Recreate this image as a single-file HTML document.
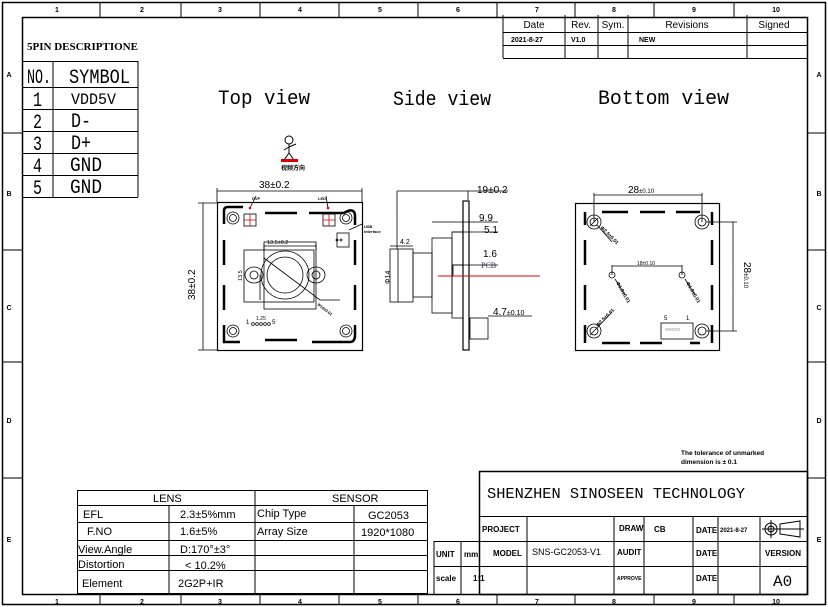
<!DOCTYPE html>
<html><head><meta charset="utf-8"><style>
html,body{margin:0;padding:0;background:#fff}
svg{display:block}
text{font-family:"Liberation Sans","Noto Sans CJK SC",sans-serif;fill:#000}
.m text, text.m{font-family:"Liberation Mono","DejaVu Sans Mono",monospace}
</style></head><body>
<svg width="828" height="607" viewBox="0 0 828 607" xmlns="http://www.w3.org/2000/svg">
<g fill="none" stroke="#000" stroke-width="1">
<rect x="2.5" y="2.5" width="823" height="602" stroke-width="1.5"/>
<rect x="22.5" y="17.5" width="785" height="577" stroke-width="1.5"/>
<path d="M100 3V17M181 3V17M260 3V17M339 3V17M418 3V17M497 3V17M575 3V17M654 3V17M734 3V17"/>
<path d="M100 594V605M181 594V605M260 594V605M339 594V605M418 594V605M497 594V605M575 594V605M654 594V605M734 594V605"/>
<path d="M3 133H22M3 250H22M3 362H22M3 478H22M808 133H826M808 250H826M808 362H826M808 478H826"/>
<path d="M23 61.5H138M23 87.5H138M23 109.5H138M23 131.5H138M23 153.5H138M23 175.5H138M23 197.5H138M138 61V197M53 61V197"/>
<path d="M503 15V58M565 15V58M598 15V58M628 15V58M747 15V58M503 32.5H807M503 45.5H807M503 58.5H807"/>
<rect x="77.5" y="490.5" width="350" height="103"/>
<path d="M77 505.5H427M77 522.5H427M77 540.5H427M77 555.5H427M77 570.5H427M169 505V594M255 490V594M354 505V594"/>
<rect x="479.5" y="471.5" width="328" height="123" stroke-width="1.5"/>
<path d="M480 516.5H807M434 541.5H807M434 566.5H807M434 541V594M461 541V594M527 516V594M614 516V594M644 516V594M693 516V594M718 516V594M760 516V594"/>
<circle cx="771" cy="529" r="6"/><circle cx="771" cy="529" r="3"/><path d="M762 529H804M771 520V538M780 524L800 521V537L780 534Z"/>
</g>
<g font-size="7" font-weight="bold" text-anchor="middle">
<text x="57" y="12">1</text><text x="142" y="12">2</text><text x="220" y="12">3</text><text x="300" y="12">4</text><text x="380" y="12">5</text><text x="458" y="12">6</text><text x="537" y="12">7</text><text x="614" y="12">8</text><text x="694" y="12">9</text><text x="776" y="12">10</text>
<text x="57" y="604">1</text><text x="142" y="604">2</text><text x="220" y="604">3</text><text x="300" y="604">4</text><text x="380" y="604">5</text><text x="458" y="604">6</text><text x="537" y="604">7</text><text x="614" y="604">8</text><text x="694" y="604">9</text><text x="776" y="604">10</text>
<text x="9" y="77">A</text><text x="9" y="196">B</text><text x="9" y="310">C</text><text x="9" y="423">D</text><text x="9" y="542">E</text>
<text x="819" y="77">A</text><text x="819" y="196">B</text><text x="819" y="310">C</text><text x="819" y="423">D</text><text x="819" y="542">E</text>
</g>
<text x="27" y="50" font-size="11" font-weight="bold" style="font-family:'Liberation Serif',serif">5PIN DESCRIPTIONE</text>
<g font-size="20" class="m" lengthAdjust="spacingAndGlyphs">
<text x="27" y="83" textLength="24" lengthAdjust="spacingAndGlyphs">NO.</text><text x="69" y="83" textLength="61" lengthAdjust="spacingAndGlyphs">SYMBOL</text>
<text x="33" y="106" textLength="9" lengthAdjust="spacingAndGlyphs">1</text><text x="71" y="104" font-size="16" textLength="45" lengthAdjust="spacingAndGlyphs">VDD5V</text>
<text x="33" y="128" textLength="9" lengthAdjust="spacingAndGlyphs">2</text><text x="71" y="127" textLength="20" lengthAdjust="spacingAndGlyphs">D-</text>
<text x="33" y="150" textLength="9" lengthAdjust="spacingAndGlyphs">3</text><text x="71" y="149" textLength="20" lengthAdjust="spacingAndGlyphs">D+</text>
<text x="33" y="172" textLength="9" lengthAdjust="spacingAndGlyphs">4</text><text x="70" y="171" textLength="32" lengthAdjust="spacingAndGlyphs">GND</text>
<text x="33" y="194" textLength="9" lengthAdjust="spacingAndGlyphs">5</text><text x="70" y="193" textLength="32" lengthAdjust="spacingAndGlyphs">GND</text>
</g>
<g font-size="10" text-anchor="middle">
<text x="534" y="28">Date</text><text x="581" y="28">Rev.</text><text x="613" y="28">Sym.</text><text x="687" y="28">Revisions</text><text x="774" y="28">Signed</text>
</g>
<g font-size="7" font-weight="bold"><text x="511" y="42">2021-8-27</text><text x="571" y="42">V1.0</text><text x="639" y="42">NEW</text></g>
<g font-size="20" class="m"><text x="218" y="104" textLength="92" lengthAdjust="spacingAndGlyphs">Top view</text><text x="393" y="105" textLength="98" lengthAdjust="spacingAndGlyphs">Side view</text><text x="598" y="104" textLength="131" lengthAdjust="spacingAndGlyphs">Bottom view</text></g>
<g stroke="#000" fill="none"><circle cx="289" cy="140" r="4"/><path d="M289 144V153L284 160M289 153L294 160M289 147L296 144M289 147L284 150"/></g>
<rect x="281" y="159" width="17" height="3" fill="#d00"/>
<text x="281" y="170" font-size="6" font-weight="bold">视频方向</text>
<text x="259" y="188" font-size="10">38±0.2</text>
<g fill="none" stroke="#000" stroke-width="0.8">
<path d="M217 191H362M217 188V202M362 188V202M203 203V350M198 203H217M198 350H217"/>
<rect x="217.5" y="202.5" width="145" height="148" stroke-width="1.2"/>
<path d="M224 224V211Q224 207 228 207H243M265 213H297M309 213H344Q354 207 355 215V225M224 240V265M355 240V265M224 285V310M355 285V310M224 325V342H240M265 340H297M312 342H350Q355 342 355 335V325" stroke-width="2.5"/>
<circle cx="233" cy="218" r="6"/><circle cx="233" cy="218" r="3.5"/>
<circle cx="346" cy="218" r="6"/><circle cx="346" cy="218" r="3.5"/>
<circle cx="233" cy="331" r="6"/><circle cx="233" cy="331" r="3.5"/>
<circle cx="346" cy="331" r="6"/><circle cx="346" cy="331" r="3.5"/>
<rect x="244" y="214" width="12" height="12"/><rect x="323" y="214" width="12" height="12"/>
<rect x="337" y="233" width="12" height="14"/>
<rect x="244" y="250" width="70" height="52"/><rect x="264" y="242" width="52" height="67"/>
<circle cx="285" cy="275" r="24"/><circle cx="285" cy="275" r="18"/>
<ellipse cx="254" cy="275" rx="9" ry="8"/><ellipse cx="316" cy="275" rx="9" ry="8"/>
<circle cx="254" cy="275" r="4"/><circle cx="316" cy="275" r="4"/>
<path d="M264 246H316M264 244V250M316 244V250M260 275V300M264 258L320 300H340"/>
<path d="M250 208L256 196M328 208L326 196M349 230L362 224"/>
</g>
<g stroke="#d00" stroke-width="0.8"><path d="M250 214V226M244 220H256M329 214V226M323 220H335"/></g>
<circle cx="250" cy="208" r="1.3" fill="#d00"/><circle cx="328" cy="208" r="1.3" fill="#d00"/>
<g font-size="4" font-weight="bold"><text x="252" y="200">DVP</text><text x="318" y="200">LED</text><text x="364" y="228">USB</text><text x="364" y="233">interface</text><text x="317" y="305" transform="rotate(38 317 305)">Φ14±0.01</text></g>
<g font-size="5.5"><text x="267" y="244">13.5±0.2</text><text x="242" y="281" transform="rotate(-90 242 281)">13.5</text></g>
<text x="195" y="300" font-size="10" transform="rotate(-90 195 300)">38±0.2</text>
<text x="246" y="324" font-size="6">1</text><text x="272" y="324" font-size="6">5</text><text x="256" y="320" font-size="5">1.25</text>
<g fill="none" stroke="#000" stroke-width="0.7"><circle cx="253" cy="324" r="1.4"/><circle cx="257" cy="324" r="1.4"/><circle cx="261" cy="324" r="1.4"/><circle cx="265" cy="324" r="1.4"/><circle cx="269" cy="324" r="1.4"/><circle cx="337" cy="240" r="1"/><circle cx="341" cy="240" r="1"/></g>
<g fill="none" stroke="#000" stroke-width="0.8">
<rect x="463" y="201" width="6" height="149" stroke-width="1.2"/>
<rect x="390" y="249" width="23" height="53"/>
<path d="M398 249V302"/>
<rect x="413" y="253" width="19" height="44"/>
<rect x="432" y="238" width="20" height="75"/>
<rect x="452" y="232" width="11" height="86"/>
<rect x="453" y="265" width="10" height="11"/>
<rect x="470" y="318" width="18" height="21"/>
<path d="M397 191H508M397 191V249M432 222H498M452 232H498M453 265H498M390 246H413M488 316H532M468 200V191"/>
</g>
<line x1="438" y1="276" x2="540" y2="276" stroke="#d00" stroke-width="1"/>
<g font-size="10"><text x="477" y="193">19±0.2</text><text x="479" y="221">9.9</text><text x="484" y="233">5.1</text><text x="483" y="257">1.6</text><text x="493" y="315">4.7<tspan font-size="7">±0.10</tspan></text></g>
<text x="481" y="268" font-size="8" style="fill:#335;font-family:'Liberation Serif',serif">PCB</text>
<text x="400" y="244" font-size="7">4.2</text>
<text x="390" y="284" font-size="7" transform="rotate(-90 390 284)">Φ14</text>
<g fill="none" stroke="#000" stroke-width="0.8">
<rect x="575.5" y="203.5" width="144" height="147" stroke-width="1.2"/>
<path d="M585 212V225M585 240V265M585 285V310M585 325V343M602 212H628M640 212H665M676 212H700M712 212V225M712 240V265M712 285V310M712 325V343M602 343H630M640 343H662M690 343H700" stroke-width="2.5"/>
<circle cx="594" cy="222" r="7"/><circle cx="594" cy="222" r="4"/>
<circle cx="702" cy="222" r="7"/><circle cx="702" cy="222" r="4"/>
<circle cx="594" cy="331" r="7"/><circle cx="594" cy="331" r="4"/>
<circle cx="702" cy="331" r="7"/><circle cx="702" cy="331" r="4"/>
<circle cx="612" cy="275" r="3"/><circle cx="682" cy="275" r="3"/>
<rect x="661" y="323" width="32" height="16"/>
<path d="M594 193V222M702 193V222M594 195H702M612 265V275M682 265V275M612 266H682M706 222H737M706 331H737M733 222V331M590 226L598 218M590 335L598 327M597 225L612 242M597 328L612 312M615 279L625 295M685 279L695 295"/>
</g>
<text x="628" y="193" font-size="10">28<tspan font-size="6">±0.10</tspan></text>
<text x="637" y="265" font-size="5">18±0.10</text>
<text x="744" y="262" font-size="10" transform="rotate(90 744 262)">28<tspan font-size="6">±0.10</tspan></text>
<g font-size="5" font-weight="bold"><text x="600" y="228" transform="rotate(45 600 228)">Φ2.5±0.01</text><text x="598" y="327" transform="rotate(-45 598 327)">Φ2.5±0.01</text><text x="616" y="283" transform="rotate(60 616 283)">Φ1.9±0.01</text><text x="686" y="283" transform="rotate(60 686 283)">Φ1.9±0.01</text></g>
<text x="664" y="320" font-size="6">5</text><text x="686" y="320" font-size="6">1</text>
<g font-size="5"><text x="665" y="331">○○○○○</text></g>
<g font-size="6.5" font-weight="bold"><text x="681" y="455">The tolerance of unmarked</text><text x="681" y="464">dimension is ± 0.1</text></g>
<text x="487" y="498" font-size="15" class="m" textLength="258" lengthAdjust="spacingAndGlyphs">SHENZHEN SINOSEEN TECHNOLOGY</text>
<g font-size="8" font-weight="bold">
<text x="482" y="532">PROJECT</text><text x="493" y="556">MODEL</text>
<text x="619" y="531">DRAW</text><text x="617" y="555">AUDIT</text><text x="617" y="580" font-size="5">APPROVE</text>
<text x="696" y="533">DATE</text><text x="696" y="556">DATE</text><text x="696" y="581">DATE</text>
<text x="765" y="556">VERSION</text><text x="436" y="557">UNIT</text><text x="464" y="557">mm</text><text x="436" y="581">scale</text><text x="473" y="581">1:1</text>
<text x="654" y="532">CB</text>
</g>
<text x="720" y="532" font-size="6" font-weight="bold">2021-8-27</text>
<text x="532" y="555" font-size="9">SNS-GC2053-V1</text>
<text x="773" y="586" font-size="16" class="m">A0</text>
<g font-size="11">
<text x="153" y="502">LENS</text><text x="332" y="502">SENSOR</text>
<text x="83" y="518">EFL</text><text x="180" y="518">2.3±5%mm</text><text x="257" y="517">Chip Type</text><text x="368" y="519">GC2053</text>
<text x="87" y="535">F.NO</text><text x="180" y="535">1.6±5%</text><text x="257" y="535">Array Size</text><text x="361" y="536">1920*1080</text>
<text x="78" y="553">View.Angle</text><text x="180" y="553">D:170°±3°</text>
<text x="78" y="568">Distortion</text><text x="185" y="569">&lt; 10.2%</text>
<text x="82" y="587">Element</text><text x="178" y="587">2G2P+IR</text>
</g>
</svg>
</body></html>
